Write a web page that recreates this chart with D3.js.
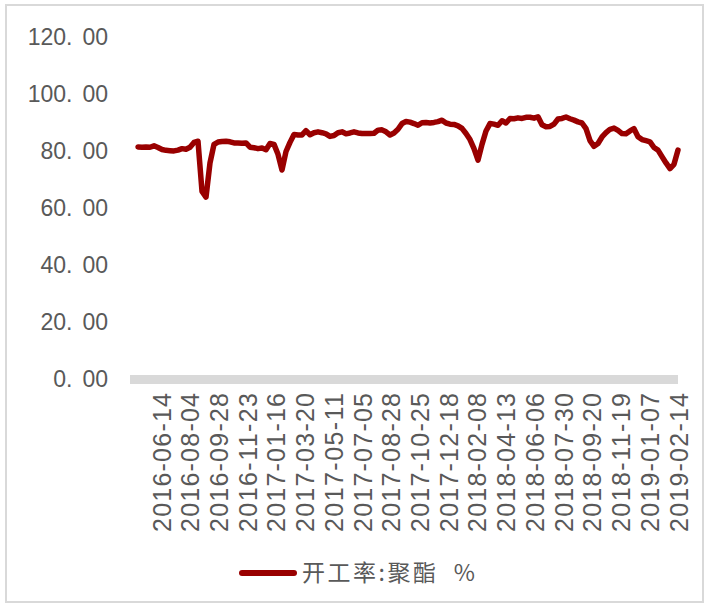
<!DOCTYPE html>
<html>
<head>
<meta charset="utf-8">
<script src="https://cdn.jsdelivr.net/npm/d3@7"></script>
<style>
  html, body { margin: 0; padding: 0; background: #ffffff; }
  svg { display: block; }
</style>
</head>
<body>
<div id="line-chart"></div>
<script>
// Tick labels on the category axis (every ~37th point)
var tickLabels = [
  "2016-06-14", "2016-08-04", "2016-09-28", "2016-11-23", "2017-01-16",
  "2017-03-20", "2017-05-11", "2017-07-05", "2017-08-28", "2017-10-25",
  "2017-12-18", "2018-02-08", "2018-04-13", "2018-06-06", "2018-07-30",
  "2018-09-20", "2018-11-19", "2019-01-07", "2019-02-14"
];

// Y axis ticks
var yTickValues = [0, 20, 40, 60, 80, 100, 120];

// Series name
var seriesName = "开工率:聚酯  %";

// Operating rate of polyester (%)
var rateValues = [
  81.6, 81.5, 81.6, 81.5, 82.0, 81.4, 80.7, 80.4, 80.3, 80.2,
  80.5, 81.0, 80.8, 81.5, 83.2, 83.6, 66.0, 64.0, 76.0, 82.5,
  83.3, 83.5, 83.6, 83.4, 83.0, 83.0, 82.9, 83.0, 81.5, 81.3,
  81.0, 81.2, 80.6, 82.8, 82.5, 79.0, 73.5, 80.0, 83.2, 86.0,
  85.8, 85.8, 87.3, 85.9, 86.6, 86.9, 86.6, 86.2, 85.3, 85.6,
  86.6, 86.9, 86.2, 86.5, 86.9, 86.5, 86.3, 86.3, 86.3, 86.4,
  87.5, 87.6, 86.9, 85.8, 86.5, 87.8, 89.8, 90.5, 90.3, 89.8,
  89.2, 90.1, 90.2, 90.0, 90.2, 90.5, 91.0, 90.0, 89.6, 89.5,
  89.0, 88.1, 86.3, 84.2, 81.0, 77.0, 82.5, 87.2, 89.8, 89.6,
  89.2, 90.8, 90.0, 91.6, 91.5, 91.8, 91.6, 92.0, 92.0, 91.7,
  92.2, 89.4, 88.7, 88.8, 89.6, 91.4, 91.6, 92.1, 91.5, 91.0,
  90.4, 90.0, 88.0, 83.8, 81.8, 82.8, 85.1, 86.6, 87.8, 88.2,
  87.4, 86.3, 86.2, 87.2, 88.0, 85.2, 84.2, 83.8, 83.4, 81.4,
  80.5, 78.2, 76.0, 74.0, 75.5, 80.5
];

var width = 709;
var height = 607;
var textColor = "#595959";
var lineColor = "#990000";

var svg = d3
  .select("#line-chart")
  .append("svg")
  .attr("width", width)
  .attr("height", height);

// Outer frame
svg
  .append("rect")
  .attr("x", 6)
  .attr("y", 5)
  .attr("width", 697)
  .attr("height", 597)
  .attr("fill", "none")
  .attr("stroke", "#d9d9d9")
  .attr("stroke-width", 2);

// Scales
var yScale = d3.scaleLinear().domain([0, 120]).range([379.5, 37.5]);

var xScale = d3
  .scaleLinear()
  .domain([0, rateValues.length - 1])
  .range([138, 678]);

var xLabelScale = d3.scalePoint().domain(tickLabels).range([161, 678]);

// Y axis labels
var yAxis = svg
  .append("g")
  .attr("transform", "translate(108,0)")
  .call(
    d3.axisLeft(yScale).tickValues(yTickValues).tickSize(0).tickPadding(0)
  );
yAxis.select(".domain").remove();
yAxis
  .selectAll("text")
  .attr("fill", textColor)
  .style("font-family", "Liberation Sans, Arial, sans-serif")
  .style("font-size", "23px")
  .text(null)
  .each(function (d) {
    // wide gap after the decimal point, like the original font
    var parts = d3.format(".2f")(d).split(".");
    var t = d3.select(this);
    t.append("tspan").text(parts[0] + ".");
    t.append("tspan").attr("dx", 10).text(parts[1]);
  });

// Thick grey horizontal axis at zero
svg
  .append("line")
  .attr("x1", 130)
  .attr("x2", 678)
  .attr("y1", yScale(0))
  .attr("y2", yScale(0))
  .attr("stroke", "#d9d9d9")
  .attr("stroke-width", 9);

// X axis labels, rotated
var xAxis = svg
  .append("g")
  .attr("transform", "translate(0,393)")
  .call(d3.axisBottom(xLabelScale).tickSize(0));
xAxis.select(".domain").remove();
xAxis
  .selectAll("text")
  .attr("transform", "rotate(-90)")
  .attr("x", 0)
  .attr("y", 0)
  .attr("dy", "0.36em")
  .attr("text-anchor", "end")
  .attr("fill", textColor)
  .attr("textLength", 139)
  .attr("lengthAdjust", "spacing")
  .style("font-family", "Liberation Sans, Arial, sans-serif")
  .style("font-size", "25px");

// The series line
var line = d3
  .line()
  .x(function (d, i) {
    return xScale(i);
  })
  .y(function (d) {
    return yScale(d);
  });

svg
  .append("path")
  .datum(rateValues)
  .attr("d", line)
  .attr("fill", "none")
  .attr("stroke", lineColor)
  .attr("stroke-width", 5.5)
  .attr("stroke-linejoin", "round")
  .attr("stroke-linecap", "round");

// Legend
var legend = svg.append("g").attr("transform", "translate(240,573)");

legend
  .append("line")
  .attr("x1", 2)
  .attr("x2", 54)
  .attr("stroke", lineColor)
  .attr("stroke-width", 6)
  .attr("stroke-linecap", "round");

legend
  .append("text")
  .attr("x", 62)
  .attr("dy", "0.36em")
  .attr("fill", textColor)
  .style("font-family", "Noto Sans CJK SC, sans-serif")
  .style("font-size", "23px")
  .style("letter-spacing", "2.5px")
  .style("white-space", "pre")
  .text(seriesName);
</script>
</body>
</html>
